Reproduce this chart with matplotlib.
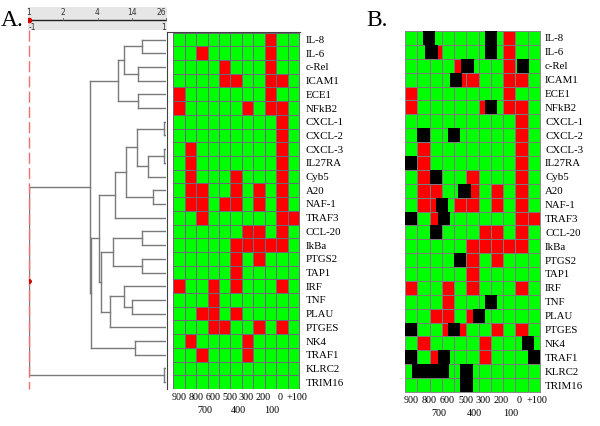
import matplotlib.pyplot as plt
import numpy as np
from matplotlib.colors import ListedColormap
from matplotlib.patches import Rectangle

# genes (rows, top to bottom) and time points (columns)
genes = ['IL-8', 'IL-6', 'c-Rel', 'ICAM1', 'ECE1', 'NFkB2', 'CXCL-1', 'CXCL-2',
         'CXCL-3', 'IL27RA', 'Cyb5', 'A20', 'NAF-1', 'TRAF3', 'CCL-20', 'IkBa',
         'PTGS2', 'TAP1', 'IRF', 'TNF', 'PLAU', 'PTGES', 'NK4', 'TRAF1',
         'KLRC2', 'TRIM16']
times = ['900', '800', '700', '600', '500', '400', '300', '200', '100', '0', '+100']
time_row = [0, 0, 1, 0, 0, 1, 0, 0, 1, 0, 0]

# red cells (column indices) per gene
red_cols = [[8], [2, 8], [4, 8], [4, 5, 8, 9], [0, 8], [0, 6, 8, 9], [9], [9],
            [1, 9], [1, 9], [1, 5, 9], [1, 2, 5, 7, 9], [1, 2, 4, 5, 7, 9],
            [2, 9, 10], [6, 7, 9], [5, 6, 7, 8, 9], [5, 7], [5], [0, 3, 5, 9],
            [3], [2, 3, 5], [3, 4, 7, 9], [1, 6], [2, 6], [], []]

# black squares in panel B (row, column start)
black_cells = [(0, 1.45), (0, 6.5), (1, 1.65), (1, 6.5), (2, 4.6), (2, 9.1),
               (3, 3.65), (5, 6.5), (7, 1.0), (7, 3.5), (9, 0), (10, 2),
               (11, 4.35), (12, 2.5), (13, 0), (13, 2.7), (14, 2), (16, 4),
               (19, 6.5), (20, 5.5), (21, 0), (21, 3.5), (22, 9.5), (23, 0),
               (23, 2.7), (23, 10), (24, 0.6), (24, 1.6), (24, 2.6), (24, 4.5),
               (25, 4.5)]

# dendrogram merges: (child a, child b, correlation); new nodes numbered from 26
merges = [(0, 1, 0.645), (2, 3, 0.596), (26, 27, 0.391), (4, 5, 0.596),
          (28, 29, 0.304), (6, 7, 0.971), (8, 9, 0.971), (32, 10, 0.742),
          (31, 33, 0.581), (11, 12, 0.806), (34, 35, 0.412), (36, 13, 0.255),
          (14, 15, 0.645), (16, 17, 0.645), (38, 39, 0.219), (19, 20, 0.50),
          (18, 41, 0.391), (42, 21, 0.187), (40, 43, 0.054), (37, 44, 0.026),
          (22, 23, 0.55), (45, 46, -0.102), (30, 47, -0.114), (24, 25, 0.971),
          (48, 49, -1.0)]

scale_top = ['1', '2', '4', '14', '26']

W, H = 600, 426
fig = plt.figure(figsize=(W / 100, H / 100), dpi=100)


def add_ax(x0, y0, x1, y1):
    return fig.add_axes([x0 / W, 1 - y1 / H, (x1 - x0) / W, (y1 - y0) / H])


nrow, ncol = len(genes), len(times)
mat = np.zeros((nrow, ncol))
for i, cols in enumerate(red_cols):
    mat[i, cols] = 1
cmap = ListedColormap(['#00ff00', '#ff0000'])
serif = 'Liberation Serif'


def time_labels(ax):
    slot = 11.72 / 8
    k = 0
    for lab, r in zip(times, time_row):
        if r == 0:
            p = k
            k += 1
        else:
            p = k - 0.5
        x = -0.2 + (p + 0.5) * slot
        ax.text(x, 26.6 + r * 0.95, lab, ha='center', va='center', fontsize=7.3,
                family=serif, clip_on=False)


# ---- panel A heatmap
axA = add_ax(167, 31.7, 300, 389)
axA.pcolormesh(np.arange(ncol + 1), np.arange(nrow + 1), mat, cmap=cmap,
               vmin=0, vmax=1, edgecolors='#6a6a78', linewidth=0.7)
axA.set_xlim(-0.55, 11.09)
axA.set_ylim(nrow, -0.07)
for s in ['right', 'bottom']:
    axA.spines[s].set_visible(False)
for s in ['left', 'top']:
    axA.spines[s].set_color('#404040')
axA.set_xticks([])
axA.yaxis.tick_right()
axA.set_yticks(np.arange(nrow) + 0.5)
axA.set_yticklabels(genes, fontsize=7.8, family=serif)
axA.tick_params(axis='y', length=0, pad=4.3)
time_labels(axA)

# ---- panel B heatmap
axB = add_ax(405, 31, 540, 392)
axB.pcolormesh(np.arange(ncol + 1), np.arange(nrow + 1), mat, cmap=cmap,
               vmin=0, vmax=1, edgecolors='#7a7a7a', linewidth=0.7)
for r, c in black_cells:
    axB.add_patch(Rectangle((c, r), 1, 1, facecolor='black', edgecolor='none', zorder=3))
axB.set_xlim(0, ncol)
axB.set_ylim(nrow, 0)
for s in axB.spines.values():
    s.set_color('#8a8a8a')
    s.set_linewidth(0.7)
axB.set_xticks([])
axB.yaxis.tick_right()
axB.set_yticks(np.arange(nrow) + 0.5)
axB.set_yticklabels(genes, fontsize=7.8, family=serif)
axB.tick_params(axis='y', length=0, pad=3.6)
time_labels(axB)

# ---- dendrogram
axD = add_ax(29, 32.7, 166, 389)
axD.set_xlim(-1, 1)
axD.set_ylim(nrow, 0)
axD.axis('off')
pos = {i: (0.985, i + 0.5) for i in range(nrow)}
node = nrow
for a, b, r in merges:
    xa, ya = pos[a]
    xb, yb = pos[b]
    axD.plot([r, xa], [ya, ya], color='#7a7a7a', lw=1)
    axD.plot([r, xb], [yb, yb], color='#7a7a7a', lw=1)
    axD.plot([r, r], [ya, yb], color='#7a7a7a', lw=1)
    pos[node] = (r, (ya + yb) / 2)
    node += 1
root_x, root_y = pos[node - 1]
axD.plot([-1, -1], [-0.2, nrow], color='#f07070', lw=1, ls=(0, (8, 3)), clip_on=False)
axD.plot([root_x], [root_y], 'o', color='#cc0000', ms=2.5)

# ---- scale band
axS = add_ax(28, 7, 167, 30)
axS.set_facecolor('#e6e6e6')
axS.set_xlim(-1 - 2 / 137, 1 + 2 / 137)
axS.set_ylim(1, 0)
for s in axS.spines.values():
    s.set_visible(False)
axS.set_xticks([])
axS.set_yticks([])
band_pos = np.linspace(-1, 1, len(scale_top))
axS.plot([-1, 1], [0.57, 0.57], color='#202020', lw=1)
for i, (p, lab) in enumerate(zip(band_pos, scale_top)):
    axS.plot([p, p], [0.47, 0.57], color='#606060', lw=0.6)
    axS.text(p, 0.22, lab, ha='right' if i == len(scale_top) - 1 else 'center',
             va='center', fontsize=5.5, color='#333333')
axS.plot([-1], [0.57], 'o', color='#dd0000', ms=3)
axS.text(-1, 0.87, '-1', ha='left', va='center', fontsize=5.5, color='#333333')
axS.text(1, 0.87, '1', ha='right', va='center', fontsize=5.5, color='#333333')

# panel letters
fig.text(1 / W, 1 - 20 / H, 'A.', fontsize=17, family=serif, va='center')
fig.text(366 / W, 1 - 20 / H, 'B.', fontsize=17, family=serif, va='center')

fig.savefig('out.png', dpi=100)
